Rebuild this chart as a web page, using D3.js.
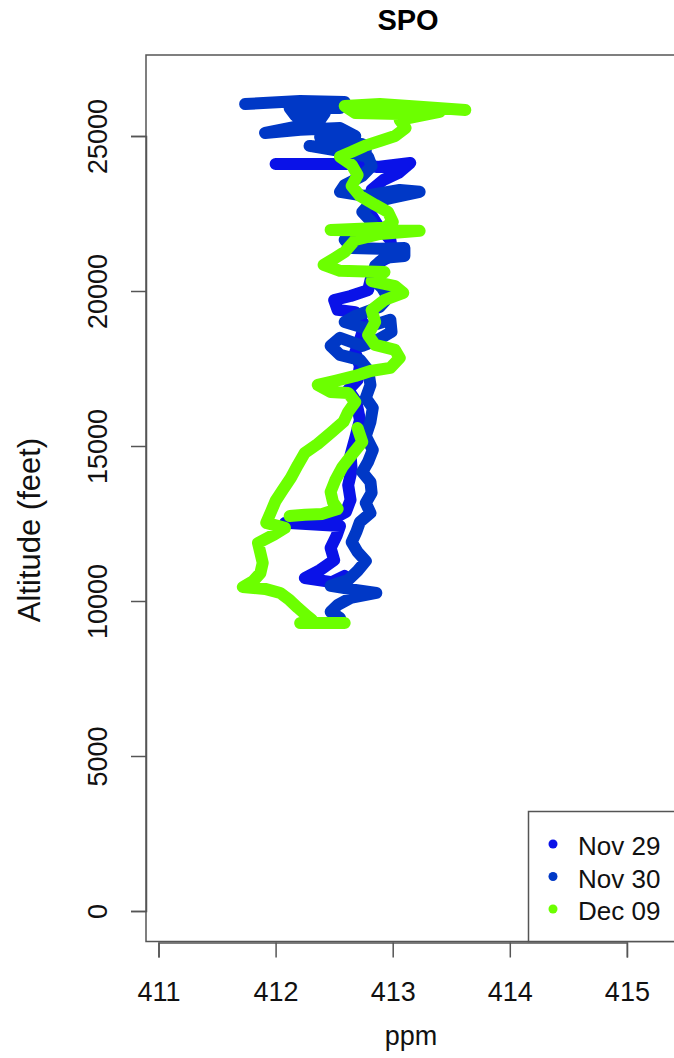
<!DOCTYPE html>
<html>
<head>
<meta charset="utf-8">
<script src="https://cdn.jsdelivr.net/npm/d3@7"></script>
<style>
  body { margin: 0; background: #fff; }
  svg { display: block; font-family: "Liberation Sans", Arial, sans-serif; }
  .trace { fill: none; stroke-linecap: round; stroke-linejoin: round; }
</style>
</head>
<body>
<div id="chart"></div>
<script>
"use strict";

// altitude profiles (ppm, feet)
let nov29Ppm = [412.00, 412.72, 412.87, 413.15, 413.05, 412.92, 412.82, 412.79, 412.87, 412.98, 413.00, 412.89,
  412.82, 412.79, 412.64, 412.50, 412.53, 412.68, 412.76, 412.72, 412.68, 412.72, 412.70, 412.62, 412.69,
  412.72, 412.68, 412.64, 412.65, 412.62, 412.64, 412.60, 412.47, 412.08, 412.55, 412.52, 412.47, 412.50,
  412.38, 412.25, 412.48, 412.59];
let nov29Alt = [24100, 24100, 24000, 24130, 23810, 23580, 23260, 22620, 22130, 21650, 21160, 20940,
  20490, 20030, 19840, 19710, 19390, 19320, 18900, 18420, 18030, 17580, 17130, 16810, 16420,
  15840, 15260, 14710, 14230, 13740, 13260, 12870, 12610, 12520, 12420, 12100, 11710, 11320,
  11000, 10740, 10610, 10810];

let nov30Ppm = [411.74, 412.21, 412.59, 412.55, 412.12, 412.17, 412.42, 412.38, 412.21, 411.91, 412.21, 412.55,
  412.68, 412.38, 412.74, 412.77, 412.29, 412.59, 412.79,
  412.82, 412.74, 412.59, 412.55, 412.76, 413.06, 413.23, 412.99, 412.81, 412.74,
  412.82, 412.76, 412.59, 412.65, 412.89, 413.10, 413.10, 412.93, 412.85, 412.82, 412.91, 412.96, 412.89,
  412.68, 412.59, 412.76, 412.98, 412.99, 412.87, 412.74, 412.55, 412.47, 412.55, 412.72, 412.79, 412.81,
  412.77, 412.83, 412.81, 412.77, 412.83, 412.79, 412.74, 412.81, 412.82, 412.77, 412.81, 412.72, 412.69,
  412.65, 412.70, 412.77, 412.70, 412.62, 412.47, 412.68, 412.86, 412.64, 412.53, 412.47, 412.55];
let nov30Alt = [26030, 26130, 26100, 25900, 25900, 25650, 25740, 25520, 25330, 25100, 25200, 25260,
  25000, 24970, 24740, 24520, 24680, 24490, 24330,
  24030, 23710, 23420, 23200, 23070, 23260, 23200, 23000, 22840, 22550,
  22230, 21810, 21650, 21390, 21360, 21390, 21130, 21070, 20810, 20420, 20100, 19780, 19490,
  19200, 19000, 18810, 19070, 18680, 18420, 18230, 18490, 18230, 17940, 17780, 17450, 16970,
  16550, 16230, 15780, 15320, 14870, 14490, 14160, 13840, 13490, 13160, 12840, 12550, 12230,
  11900, 11580, 11290, 10970, 10680, 10490, 10360, 10260, 10100, 9870, 9650, 9450];

let dec09PpmA = [413.62, 413.23, 412.89, 412.59, 412.68, 413.06, 413.40, 413.06, 413.11, 413.02, 412.89, 412.76,
  412.65, 412.55, 412.65, 412.70, 412.65, 412.72, 412.85, 412.96, 413.00, 412.93, 412.47, 413.23, 412.89,
  412.68, 412.59, 412.51, 412.41, 412.55, 412.93, 412.82, 413.02, 413.09, 412.93, 412.82, 412.85, 412.79,
  412.85, 413.02, 413.06, 412.98, 412.81, 412.68, 412.51, 412.36, 412.47, 412.62, 412.68, 412.62, 412.58,
  412.48, 412.36, 412.25, 412.19, 412.13, 412.06, 412.00, 411.96, 411.92, 412.08, 411.99, 411.85, 411.87,
  411.89, 411.87, 411.81, 411.72, 411.91, 412.04, 412.12, 412.19, 412.26, 412.31, 412.21, 412.59];
let dec09AltA = [25840, 25940, 26030, 25970, 25740, 25710, 25780, 25520, 25260, 25000, 24840, 24680,
  24490, 24330, 24070, 23740, 23390, 23070, 22780, 22550, 22230, 22040, 21970, 21940, 21840,
  21650, 21260, 21070, 20840, 20650, 20610, 20320, 20160, 19940, 19710, 19390, 19000, 18580,
  18260, 18100, 17840, 17520, 17420, 17260, 17100, 16970, 16740, 16710, 16420, 16100, 15780,
  15450, 15070, 14780, 14390, 13970, 13580, 13230, 12870, 12520, 12360, 12150, 11870, 11550,
  11230, 10900, 10650, 10450, 10390, 10260, 10030, 9780, 9550, 9390, 9290, 9290];

let dec09PpmB = [412.70, 412.74, 412.65, 412.57, 412.51, 412.47, 412.49, 412.53, 412.40, 412.25, 412.12];
let dec09AltB = [15580, 15130, 14710, 14320, 13900, 13520, 13190, 12970, 12810, 12780, 12740];

let xTicks = [411, 412, 413, 414, 415];
let yTicks = [0, 5000, 10000, 15000, 20000, 25000];

let seriesNames = ["Nov 29", "Nov 30", "Dec 09"];
let seriesColors = ["#0a12e8", "#0038c6", "#6cff00"];

function zip(ppm, alt) {
  return ppm.map((p, i) => [p, alt[i]]);
}

let series = [
  { name: seriesNames[0], color: seriesColors[0], segments: [zip(nov29Ppm, nov29Alt)] },
  { name: seriesNames[1], color: seriesColors[1], segments: [zip(nov30Ppm, nov30Alt)] },
  { name: seriesNames[2], color: seriesColors[2], segments: [zip(dec09PpmA, dec09AltA), zip(dec09PpmB, dec09AltB)] }
];

let width = 674, height = 1058;
let box = { left: 146, right: 690, top: 55, bottom: 941.5 };

let svg = d3.select("#chart").append("svg")
  .attr("width", width)
  .attr("height", height);

let x = d3.scaleLinear().domain([411, 415]).range([158.5, 626.9]);
let y = d3.scaleLinear().domain([0, 25000]).range([911, 136]);

svg.append("defs").append("clipPath")
  .attr("id", "plotClip")
  .append("rect")
  .attr("x", box.left).attr("y", box.top)
  .attr("width", box.right - box.left).attr("height", box.bottom - box.top);

// traces (dense points in the original, drawn as fat round-capped lines)
let line = d3.line()
  .x(d => x(d[0]))
  .y(d => y(d[1]));

let traces = svg.append("g").attr("clip-path", "url(#plotClip)");
series.forEach(s => {
  traces.selectAll(null)
    .data(s.segments)
    .enter().append("path")
    .attr("class", "trace")
    .attr("d", line)
    .attr("stroke", s.color)
    .attr("stroke-width", 12);
});

// plot box
svg.append("rect")
  .attr("x", box.left).attr("y", box.top)
  .attr("width", box.right - box.left).attr("height", box.bottom - box.top)
  .attr("fill", "none")
  .attr("stroke", "#555")
  .attr("stroke-width", 1.5);

// axes
let xAxis = d3.axisBottom(x).tickValues(xTicks).tickSize(15).tickFormat(d3.format("d"));
let yAxis = d3.axisLeft(y).tickValues(yTicks).tickSize(15).tickFormat(d3.format("d"));

let gx = svg.append("g")
  .attr("transform", "translate(0," + 942.5 + ")")
  .call(xAxis);
gx.selectAll("text")
  .attr("y", 58).attr("dy", 0)
  .attr("fill", "#111")
  .style("font-size", "27px");

let gy = svg.append("g")
  .attr("transform", "translate(" + box.left + ",0)")
  .call(yAxis);
gy.selectAll("text")
  .attr("transform", "rotate(-90)")
  .attr("x", 0).attr("y", -39).attr("dy", 0)
  .style("text-anchor", "middle")
  .attr("fill", "#111")
  .style("font-size", "27px");

svg.selectAll(".domain, .tick line")
  .attr("stroke", "#555")
  .attr("stroke-width", 1.5);

// titles
svg.append("text")
  .attr("x", 408).attr("y", 30)
  .attr("text-anchor", "middle")
  .style("font-size", "29px")
  .style("font-weight", "bold")
  .text("SPO");

svg.append("text")
  .attr("x", 411).attr("y", 1045)
  .attr("text-anchor", "middle")
  .attr("fill", "#111")
  .style("font-size", "27px")
  .text("ppm");

svg.append("text")
  .attr("transform", "translate(40," + 530 + ") rotate(-90)")
  .attr("text-anchor", "middle")
  .attr("fill", "#111")
  .style("font-size", "31px")
  .text("Altitude (feet)");

// legend
let legend = svg.append("g");
legend.append("rect")
  .attr("x", 528.5).attr("y", 811.5)
  .attr("width", 200).attr("height", 130)
  .attr("fill", "#fff")
  .attr("stroke", "#555")
  .attr("stroke-width", 1.5);

let items = legend.selectAll(".item")
  .data(series)
  .enter().append("g")
  .attr("class", "item")
  .attr("transform", (d, i) => "translate(0," + (844 + i * 32.5) + ")");

items.append("circle")
  .attr("cx", 553).attr("cy", 0).attr("r", 4.5)
  .attr("fill", d => d.color);

items.append("text")
  .attr("x", 578).attr("y", 11)
  .attr("fill", "#111")
  .style("font-size", "26px")
  .text(d => d.name);
</script>
</body>
</html>
